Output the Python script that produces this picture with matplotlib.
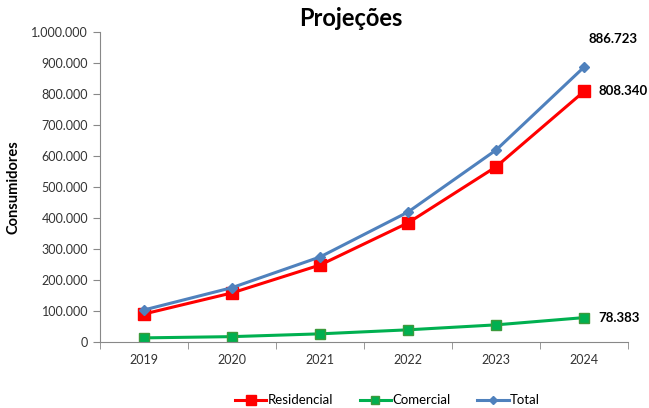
import matplotlib
matplotlib.use("Agg")
import matplotlib.pyplot as plt
from matplotlib.ticker import FuncFormatter, FixedLocator

plt.rcParams['font.family'] = ['Lato', 'DejaVu Sans']

anos = ['2019', '2020', '2021', '2022', '2023', '2024']
residencial = [90000, 158000, 248000, 384000, 565000, 808340]
comercial = [13000, 17000, 26000, 39000, 55000, 78383]
total = [103000, 175000, 274000, 419000, 619000, 886723]


def milhar(v, pos=None):
    return f"{int(v):,}".replace(",", ".")


fig = plt.figure(figsize=(6.49, 4.08), dpi=100)
ax = fig.add_axes([0.154, 0.162, 0.814, 0.760])

x = list(range(len(anos)))
ax.plot(x, residencial, color='#FF0000', lw=2.2, marker='s', ms=9, label='Residencial')
ax.plot(x, comercial, color='#00B050', lw=2.2, marker='s', ms=7,
        markeredgecolor='#3C9A3C', label='Comercial')
ax.plot(x, total, color='#4F81BD', lw=2.2, marker='D', ms=5, label='Total')

ax.set_xlim(-0.5, len(anos) - 0.5)
ax.set_ylim(0, 1000000)
ax.set_yticks(range(0, 1000001, 100000))
ax.yaxis.set_major_formatter(FuncFormatter(milhar))
ax.set_xticks(x)
ax.set_xticklabels(anos)
ax.xaxis.set_minor_locator(FixedLocator([i - 0.5 for i in range(len(anos) + 1)]))
ax.tick_params(axis='x', which='major', length=0, pad=9, labelsize=9, colors='#333333')
ax.tick_params(axis='x', which='minor', length=5, color='#888888')
ax.tick_params(axis='y', length=5, color='#888888', labelsize=9, labelcolor='#333333')

for s in ['top', 'right']:
    ax.spines[s].set_visible(False)
for s in ['left', 'bottom']:
    ax.spines[s].set_color('#888888')

ax.set_ylabel('Consumidores', fontsize=10.5, fontweight='bold', labelpad=8)
fig.text(0.54, 0.955, 'Projeções', ha='center', va='center', fontsize=17, fontweight='bold')

ax.annotate(milhar(total[-1]), (x[-1], total[-1]), xytext=(3, 16), textcoords='offset points',
            fontsize=9.5, fontweight='bold', ha='left', va='bottom')
ax.annotate(milhar(residencial[-1]), (x[-1], residencial[-1]), xytext=(10, 0),
            textcoords='offset points', fontsize=9.5, fontweight='bold', ha='left', va='center')
ax.annotate(milhar(comercial[-1]), (x[-1], comercial[-1]), xytext=(10, 0),
            textcoords='offset points', fontsize=9.5, fontweight='bold', ha='left', va='center')

fig.legend(loc='lower center', bbox_to_anchor=(0.597, -0.025), ncol=3, frameon=False,
           fontsize=9.5, handlelength=2.4, columnspacing=2.0, handletextpad=0.1,
           markerscale=0.75)

fig.savefig('out.png', dpi=100)
